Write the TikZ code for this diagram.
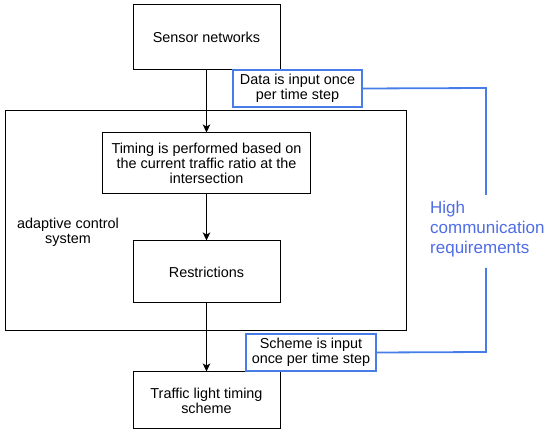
\documentclass[tikz,border=0pt]{standalone}
\usepackage{fontspec}
\setmainfont{Liberation Sans}
\usetikzlibrary{arrows.meta}
\definecolor{commblue}{RGB}{72,124,232}
\definecolor{commtext}{RGB}{78,108,228}

\begin{document}
\begin{tikzpicture}[x=1pt,y=-1pt]
\tikzset{every node/.style={font=\fontsize{14.4}{15}\selectfont, align=center, inner sep=0pt},
box/.style={draw, line width=1pt, rectangle},
inbox/.style={draw=commblue, line width=1.8pt, rectangle, fill=white},
flow/.style={line width=1pt, -{Stealth[length=8pt,width=7.5pt,inset=2pt]}}}
\useasboundingbox (0,0) rectangle (550,433);
\node [box, minimum width=401pt, minimum height=220pt] at (205.5,221) (acs) {};
\node [box, minimum width=147pt, minimum height=65pt] at (206.5,37.5) (sensor) {Sensor networks};
\node [box, minimum width=208pt, minimum height=61pt] at (206.5,163.5) (timing) {Timing is performed based on\\the current traffic ratio at the\\intersection};
\node [box, minimum width=147pt, minimum height=62pt] at (206.5,272) (restr) {Restrictions};
\node [box, minimum width=147pt, minimum height=57pt] at (206.5,400.5) (scheme) {Traffic light timing\\scheme};
\node at (68,232) (acslabel) {adaptive control\\system};
\draw [flow] (sensor) -- (timing);
\draw [flow] (timing) -- (restr);
\draw [flow] (restr) -- (scheme);
\node [inbox, minimum width=129pt, minimum height=37pt] at (297.5,88.5) (datain) {Data is input once\\per time step};
\node [inbox, minimum width=130pt, minimum height=37pt] at (311,352.5) (schemein) {Scheme is input\\once per time step};
\node [anchor=west, align=left, text=commtext, font=\fontsize{17}{20}\selectfont] at (430,229) (high) {High\\communication\\requirements};
\coordinate (top) at (486,88);
\coordinate (gapa) at (486,195);
\coordinate (gapb) at (486,268);
\coordinate (bot) at (486,352);
\draw [commblue, line width=1.8pt] (datain.east) -- (top) -- (gapa);
\draw [commblue, line width=1.8pt] (gapb) -- (bot) -- (schemein.east);
\end{tikzpicture}
\end{document}
